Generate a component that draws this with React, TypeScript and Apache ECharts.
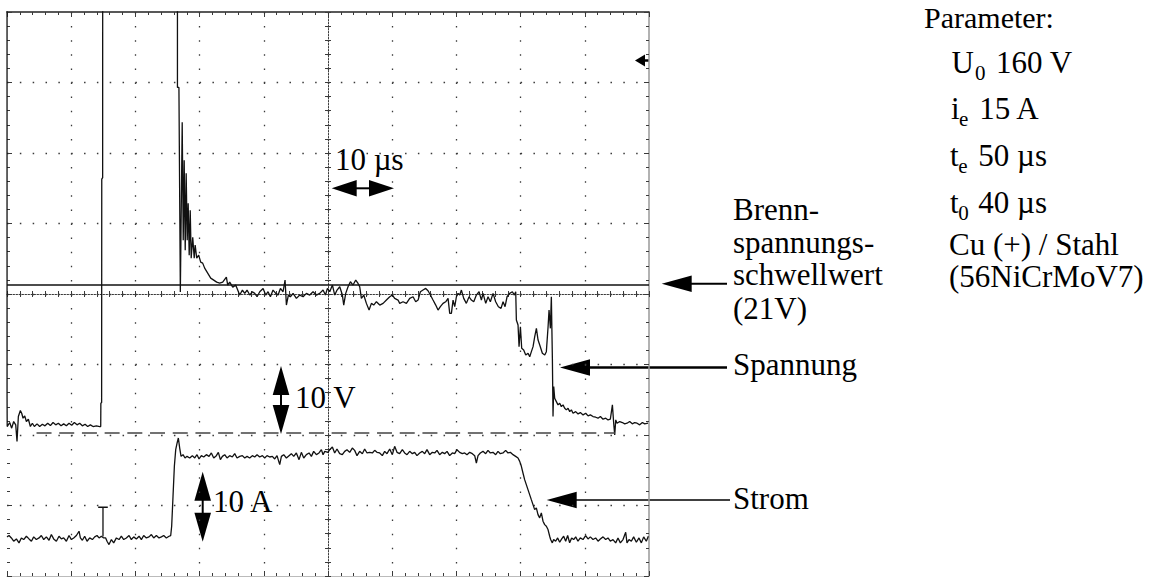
import React, { useEffect, useRef } from "react";
import * as echarts from "echarts";

// Oscillogram of a single EDM discharge: gap voltage and discharge current over time.
// Time in µs (10 µs / div), voltage in V (10 V / div), current in A (10 A / div).

const timeRange: [number, number] = [0, 100];
const voltRange: [number, number] = [-20.3, 59.7];
const currentRange: [number, number] = [-5, 75];
const thresholdVolt = 21;
const zeroLineSpan: [number, number] = [4.6, 94.7];

// Gap voltage [t µs, U V]; values above the screen top are the 160 V open-circuit level.
const voltage: [number, number][] = [
  [0, 160], [0.01, 5.0], [0.03, 0.9], [0.42, 1.47], [0.73, 0.67], [1.04, 1.61], [1.36, 1.14],
  [1.56, -1.22], [1.77, 2.32], [2.08, 3.17], [2.29, 2.79], [2.5, 2.08], [2.76, 2.41], [3.02, 1.61],
  [3.33, 1.94], [3.64, 0.9], [3.95, 1.37], [4.26, 0.9], [4.68, 1.28], [5.09, 0.9], [5.51, 1.23],
  [5.92, 1.0], [6.34, 1.37], [6.76, 1.04], [7.17, 1.47], [7.59, 1.14], [8.0, 1.37], [8.42, 1.0],
  [8.83, 1.28], [9.25, 1.0], [9.66, 1.37], [10.08, 1.09], [10.49, 1.47], [10.91, 1.14], [11.32, 1.37],
  [11.74, 1.0], [12.16, 1.23], [12.57, 0.9], [12.99, 1.14], [13.4, 0.9], [13.92, 1.0], [14.44, 0.9],
  [14.6, 0.9], [14.62, 4.2], [14.74, 4.3], [14.76, 36.0], [14.9, 36.2], [14.92, 160],
  [26.54, 160], [26.55, 49.0], [26.78, 49.0], [27.0, 20.0],
  [27.29, 44.05], [27.45, 27.34], [27.6, 38.67], [27.76, 25.92], [27.91, 36.83], [28.07, 27.34],
  [28.22, 32.58], [28.38, 25.21], [28.54, 31.59], [28.69, 24.79], [28.93, 27.76], [29.16, 24.79],
  [29.31, 26.63], [29.55, 24.79], [29.86, 25.21], [30.17, 24.22], [30.48, 24.08], [30.79, 23.37],
  [31.26, 22.66], [31.73, 21.95], [32.2, 21.67], [32.66, 21.39], [33.13, 21.25], [33.6, 21.39],
  [34.17, 22.1], [34.38, 20.96], [34.69, 21.39], [35.16, 20.68], [35.62, 20.96],
  [36.25, 19.55], [36.67, 20.26], [37.03, 19.79], [37.39, 20.26], [37.81, 19.55], [38.22, 20.02],
  [38.59, 19.79], [38.95, 19.31], [39.37, 20.02], [39.89, 20.49], [40.3, 19.55], [40.66, 20.02],
  [41.03, 19.31], [41.44, 20.26], [41.86, 19.79], [42.22, 19.55], [42.59, 20.49], [43.0, 20.02],
  [43.31, 21.68], [43.52, 18.13], [43.83, 19.55], [44.14, 19.31], [44.56, 19.79], [45.08, 19.08],
  [45.6, 19.55], [46.12, 19.31], [46.64, 19.79], [47.15, 19.55], [47.67, 20.02], [48.19, 19.55],
  [48.71, 19.79], [49.23, 20.26], [49.6, 19.55], [49.91, 20.49], [50.27, 20.02], [50.69, 20.97],
  [51.05, 19.55], [51.41, 20.26], [51.83, 20.73], [52.24, 19.55], [52.45, 18.13], [52.76, 19.79],
  [53.12, 20.73], [53.49, 21.44], [53.9, 20.97], [54.32, 21.68], [54.68, 21.2], [54.94, 20.73],
  [55.2, 19.08], [55.57, 19.55], [55.98, 18.37], [56.4, 17.43], [56.76, 18.37], [57.12, 18.13],
  [57.54, 18.61], [58.06, 18.13], [58.58, 18.37], [59.1, 18.84], [59.62, 19.31], [60.03, 19.55],
  [60.39, 19.08], [60.91, 18.84],
  [61.17, 18.37], [61.69, 18.6], [62.21, 18.37], [62.73, 19.08], [63.25, 19.31], [63.66, 18.6],
  [64.03, 18.84], [64.39, 20.02], [64.8, 20.26], [65.22, 20.49], [65.58, 20.16], [65.95, 19.55],
  [66.36, 18.84], [66.78, 18.13], [67.14, 17.42], [67.5, 17.9], [67.92, 18.37], [68.33, 18.6],
  [68.7, 19.08], [68.96, 16.95], [69.22, 16.95], [69.48, 18.84], [69.74, 17.9], [70.0, 19.31],
  [70.26, 19.79], [70.52, 19.55], [70.78, 20.26], [71.14, 19.08], [71.55, 18.37], [71.97, 19.31],
  [72.33, 18.84], [72.7, 18.6], [73.11, 19.55], [73.53, 20.02], [73.89, 18.84], [74.15, 19.79],
  [74.57, 18.37], [74.93, 19.31], [75.29, 18.6], [75.71, 19.79], [76.12, 18.6], [76.54, 17.9],
  [76.95, 17.66], [77.27, 18.6], [77.58, 17.9], [77.89, 19.31], [78.3, 19.79], [78.72, 20.02],
  [79.03, 19.55], [79.24, 20.02], [79.34, 16.01], [79.6, 15.3], [79.76, 12.23], [79.97, 15.06],
  [80.17, 12.0], [80.48, 11.76], [80.8, 11.05], [81.16, 11.29], [81.42, 10.81], [81.68, 11.52],
  [81.94, 12.23], [82.2, 13.65], [82.46, 14.83], [82.72, 13.17], [82.98, 12.47], [83.39, 11.29],
  [83.76, 11.05], [84.01, 11.52], [84.28, 15.06], [84.43, 17.42], [84.64, 14.83], [84.79, 19.31],
  [84.95, 10.58], [85.05, 2.32], [85.16, 6.57], [85.31, 4.91], [85.57, 4.44], [85.83, 3.97],
  [86.09, 4.2], [86.35, 3.73], [86.61, 3.97], [86.87, 3.5], [87.13, 3.26], [87.39, 3.5],
  [87.65, 3.02], [87.91, 3.26], [88.17, 2.79], [88.58, 3.02], [88.95, 2.69], [89.31, 2.88],
  [89.73, 2.55], [90.14, 2.79], [90.51, 2.41], [90.87, 2.55], [91.28, 2.32], [91.7, 2.22],
  [92.06, 2.08], [92.43, 2.32], [92.84, 1.94], [93.26, 2.08], [93.62, 1.84], [93.98, 1.94],
  [94.3, 3.97], [94.5, 1.37], [94.66, -0.28], [94.82, 1.84], [95.02, 1.37], [95.44, 1.61],
  [95.85, 1.47], [96.22, 1.28], [96.58, 1.37], [96.99, 1.61], [97.4, 1.28], [97.77, 1.47],
  [98.14, 1.37], [98.55, 1.14], [98.97, 1.47], [99.33, 1.28], [99.85, 1.37],
];

// Discharge current [t µs, I A].
const current: [number, number][] = [
  [0, 0.55], [0.32, 0.74], [0.68, 0.4], [1.04, -0.07], [1.46, 0.26], [1.87, -0.3], [2.24, 0.4],
  [2.6, 0.17], [3.02, 0.64], [3.43, 0.26], [3.8, -0.07], [4.16, 0.55], [4.57, 0.17], [4.99, 0.4],
  [5.35, 0.74], [5.72, 0.17], [6.13, 0.55], [6.55, 0.07], [6.91, 0.88], [7.27, 0.26], [7.69, -0.07],
  [8.1, 0.64], [8.47, 0.26], [8.83, 0.4], [9.25, -0.07], [9.66, 0.74], [10.03, 0.17], [10.39, 0.4],
  [10.81, 0.74], [11.22, 1.35], [11.43, 0.4], [11.74, 0.07], [12.1, 0.64], [12.47, -0.07],
  [12.88, 0.4], [13.3, 0.17], [13.66, 0.55], [14.02, 0.74], [14.34, 0.4], [14.7, 0.64], [15.06, 0.4],
  [15.37, 0.4], [15.58, -0.07], [15.89, -0.54], [16.26, 0.17], [16.62, -0.3], [17.04, 0.4],
  [17.45, 0.17], [17.81, 0.64], [18.18, 0.17], [18.59, 0.4], [19.01, 0.74], [19.37, 0.17],
  [19.74, 0.55], [20.15, 0.26], [20.57, 0.64], [20.93, 0.17], [21.29, 0.74], [21.71, 0.4],
  [22.12, 0.55], [22.49, 0.88], [22.85, 0.4], [23.27, 0.74], [23.68, 0.4], [24.05, 0.55],
  [24.41, 0.74], [24.82, 0.4], [25.24, 0.64], [25.5, 0.74], [25.65, 2.06], [25.86, 6.31],
  [26.07, 10.56], [26.28, 12.92], [26.49, 13.86], [26.69, 14.57], [26.9, 13.15], [27.11, 11.97],
  [27.42, 12.21], [27.73, 11.74], [28.04, 11.97], [28.46, 11.74], [28.87, 12.07], [29.24, 11.74],
  [29.6, 12.21], [29.91, 11.6], [30.28, 12.07], [30.64, 11.88], [31.05, 12.21], [31.47, 11.97],
  [31.83, 12.45], [32.2, 11.74], [32.61, 12.07], [32.92, 12.54], [33.24, 11.5], [33.55, 11.97],
  [33.91, 12.21], [34.27, 11.74], [34.69, 12.07], [35.1, 11.88], [35.47, 12.35], [35.83, 11.74],
  [36.25, 11.97], [36.66, 12.07], [37.03, 11.74], [37.39, 11.97], [37.8, 11.74], [38.22, 12.07],
  [38.58, 11.88], [38.95, 12.21], [39.36, 11.88], [39.78, 12.07], [40.14, 11.74], [40.5, 12.07],
  [40.92, 11.88], [41.33, 11.97], [41.7, 11.6], [42.06, 12.07], [42.48, 10.79], [42.74, 11.97],
  [43.1, 12.21], [43.52, 11.74], [43.93, 12.07], [44.29, 12.35], [44.66, 11.97], [45.07, 12.45],
  [45.49, 11.5], [45.85, 12.54], [46.22, 11.74], [46.63, 12.21], [47.05, 12.45], [47.41, 11.97],
  [47.77, 12.68], [48.19, 12.21], [48.6, 12.45], [48.97, 12.92], [49.23, 12.21], [49.49, 12.68],
  [50.0, 12.54], [50.26, 12.92], [50.68, 13.29], [51.04, 12.45], [51.4, 13.01], [51.82, 12.35],
  [52.23, 12.21], [52.6, 12.68], [52.96, 12.92], [53.38, 12.54], [53.79, 13.15], [54.15, 12.82],
  [54.52, 12.07], [54.93, 12.68], [55.35, 12.35], [55.71, 13.01], [56.08, 12.45], [56.49, 12.54],
  [56.91, 12.45], [57.27, 12.82], [57.63, 12.54], [58.05, 12.45], [58.46, 12.07], [58.83, 12.68],
  [59.19, 12.35], [59.61, 13.01], [60.02, 12.21], [60.38, 13.39], [60.75, 12.54], [61.16, 12.35],
  [61.58, 12.92], [61.94, 12.45], [62.31, 12.21], [62.72, 12.68], [63.14, 12.35], [63.5, 12.54],
  [63.86, 12.07], [64.28, 12.45], [64.69, 12.68], [65.06, 12.35], [65.42, 12.92], [65.84, 12.21],
  [66.25, 12.54], [66.62, 12.45], [66.98, 12.82], [67.39, 12.21], [67.81, 12.54], [68.17, 12.35],
  [68.54, 12.68], [68.95, 12.07], [69.37, 12.45], [69.73, 12.35], [70.09, 12.92], [70.51, 12.54],
  [70.92, 12.35], [71.29, 12.45], [71.65, 12.21], [72.07, 12.54], [72.48, 12.35], [72.85, 12.07],
  [73.11, 11.03], [73.37, 12.07], [73.73, 12.45], [74.14, 12.68], [74.56, 12.35], [74.92, 12.82],
  [75.29, 12.45], [75.7, 12.54], [76.12, 12.21], [76.48, 12.68], [76.84, 12.35], [77.26, 12.45],
  [77.67, 12.82], [78.04, 12.45], [78.4, 12.54], [78.82, 12.21], [79.23, 11.97], [79.6, 11.74],
  [79.86, 11.26], [80.12, 10.56], [80.37, 9.61], [80.63, 8.67], [80.89, 7.96], [81.15, 7.25],
  [81.41, 6.54], [81.67, 5.83], [81.93, 5.13], [82.19, 4.42], [82.45, 4.66], [82.71, 3.71],
  [82.97, 3.24], [83.23, 3.95], [83.49, 2.77], [83.75, 2.29], [84.01, 2.06], [84.27, 1.59],
  [84.53, 0.64], [84.68, 0.17], [84.94, -0.3], [85.15, 0.17], [85.46, -0.07], [85.77, 0.4],
  [86.09, -0.21], [86.4, 0.26], [86.71, 0.64], [87.02, -0.07], [87.33, 0.74], [87.64, -0.3],
  [87.95, 0.4], [88.27, 0.17], [88.58, 0.55], [88.94, -0.07], [89.3, 0.4], [89.72, 0.17],
  [90.13, 0.74], [90.5, 0.26], [90.86, 0.55], [91.28, 0.17], [91.69, 0.4], [92.06, -0.07],
  [92.42, 0.26], [92.84, 0.55], [93.25, 0.17], [93.61, 0.4], [93.98, -0.07], [94.39, 0.17],
  [94.81, -0.3], [95.17, 0.4], [95.54, -0.3], [95.95, 0.17], [96.37, 1.21], [96.57, -0.3],
  [96.89, 0.17], [97.25, -0.07], [97.61, 0.55], [98.03, -0.21], [98.44, 0.4], [98.81, -0.3],
  [99.17, 0.55], [99.58, -0.07], [99.9, 0.64],
];

// Trigger-point marker ("T") on the current channel.
const triggerMark: [number, number][] = [[14.2, 4.75], [15.7, 4.75], [14.95, 4.75], [14.95, 0.6]];

const SERIF = '"Liberation Serif", "Times New Roman", serif';
const INK = "#111";
const DOT = "#3a3a3a";

type El = Record<string, unknown>;

function label(text: string, x: number, baseline: number, size = 31): El {
  return {
    type: "text",
    x,
    y: baseline - 0.3375 * size,
    silent: true,
    style: {
      text, fontSize: size, fontFamily: SERIF, fill: "#000",
      align: "left", verticalAlign: "middle", lineHeight: Math.round(size * 0.85),
    },
  };
}

function bar(x1: number, y1: number, x2: number, y2: number, w = 2): El {
  return { type: "line", silent: true, shape: { x1, y1, x2, y2 }, style: { stroke: "#000", lineWidth: w } };
}

function head(points: number[][]): El {
  return { type: "polygon", silent: true, shape: { points }, style: { fill: "#000" } };
}

// Arrow pointing left: tip, base of the head, end of the shaft.
function leftArrow(tipX: number, y: number, baseX: number, endX: number, w = 2): El[] {
  return [head([[tipX, y], [baseX, y - 8.3], [baseX, y + 8.3]]), bar(baseX - 1, y, endX, y, w)];
}

function hDouble(x1: number, x2: number, y: number): El[] {
  return [
    head([[x1, y], [x1 + 25, y - 8.3], [x1 + 25, y + 8.3]]),
    head([[x2, y], [x2 - 25, y - 8.3], [x2 - 25, y + 8.3]]),
    bar(x1 + 24, y, x2 - 24, y, 2),
  ];
}

function vDouble(x: number, y1: number, y2: number): El[] {
  return [
    head([[x, y1], [x - 8.3, y1 + 29], [x + 8.3, y1 + 29]]),
    head([[x, y2], [x - 8.3, y2 - 29], [x + 8.3, y2 - 29]]),
    bar(x, y1 + 28, x, y2 - 28, 2),
  ];
}

function subscripted(x: number, baseline: number, main: string, sub: string, subX: number, rest: string, restX: number): El[] {
  return [label(main, x, baseline), label(sub, subX, baseline + 7, 21), label(rest, restX, baseline)];
}

const frameTick = { show: true, inside: true, length: 5, lineStyle: { color: DOT, width: 1 } };
const frameMinor = { show: true, splitNumber: 5, length: 3, lineStyle: { color: DOT, width: 1 } };
const crossTick = { show: true, length: 3, lineStyle: { color: DOT, width: 1 } };
const crossMinor = { show: true, splitNumber: 5, length: 3, lineStyle: { color: DOT, width: 1 } };

export default function App() {
  const ref = useRef<HTMLDivElement>(null);

  useEffect(() => {
    if (!ref.current) return;
    const chart = echarts.init(ref.current, undefined, { renderer: "svg" });

    const graphicElements: El[] = [
      // trigger level marker at the right screen edge
      head([[635, 60.5], [645, 54.5], [645, 66.5]]),
      bar(644, 60.5, 649, 60.5, 2.5),
      // scale arrows
      ...hDouble(331.7, 394, 188.3),
      label("10 µs", 335, 170),
      ...vDouble(281, 366, 434),
      label("10 V", 295, 408),
      ...vDouble(202.7, 471.7, 541.7),
      label("10 A", 213, 512),
      // callouts
      ...leftArrow(661.7, 283.8, 691.7, 727, 2),
      label("Brenn-", 733, 220),
      label("spannungs-", 733, 253),
      label("schwellwert", 733, 285),
      label("(21V)", 733, 319),
      ...leftArrow(560, 367.5, 590, 727, 2.3),
      label("Spannung", 733, 375),
      ...leftArrow(546.7, 500, 576.7, 730, 1.5),
      label("Strom", 733, 509),
      // parameter block
      label("Parameter:", 924, 27.5, 30),
      ...subscripted(951.5, 73, "U", "0", 975, "160 V", 996),
      ...subscripted(951, 119, "i", "e", 959, "15 A", 979.3),
      ...subscripted(950, 166, "t", "e", 958.3, "50 µs", 978.3),
      ...subscripted(950, 213, "t", "0", 958.3, "40 µs", 978.3),
      label("Cu (+) / Stahl", 949, 255),
      label("(56NiCrMoV7)", 949, 287),
    ];

    const centreLine = { show: true, onZero: true, onZeroAxisIndex: 0, lineStyle: { color: DOT, width: 1, type: [1.5, 1.5] } };

    chart.setOption({
      animation: false,
      backgroundColor: "#fff",
      grid: { left: 7, top: 12, width: 642, height: 564, containLabel: false },
      xAxis: [
        {
          // centre crosshair line with the vertical dotted graticule
          type: "value", min: -50, max: 50, interval: 10, position: "bottom",
          axisLine: centreLine,
          axisTick: crossTick, minorTick: crossMinor,
          axisLabel: { show: false },
          splitLine: { show: true, showMinLine: false, showMaxLine: false, lineStyle: { color: DOT, width: 1.3, type: [1.5, 12.6] } },
        },
        {
          // time axis along the top edge
          type: "value", min: timeRange[0], max: timeRange[1], interval: 10, position: "top",
          axisLine: { show: true, onZero: false, lineStyle: { color: "#222", width: 1.5 } },
          axisTick: frameTick, minorTick: frameMinor,
          axisLabel: { show: false }, splitLine: { show: false },
        },
        {
          type: "value", min: timeRange[0], max: timeRange[1], interval: 10, position: "bottom",
          axisLine: { show: true, onZero: false, lineStyle: { color: "#bbb", width: 1 } },
          axisTick: frameTick, minorTick: frameMinor,
          axisLabel: { show: false }, splitLine: { show: false },
        },
        {
          // ticks on the other side of the centre line
          type: "value", min: -50, max: 50, interval: 10, position: "bottom",
          axisLine: { show: false, onZero: true, onZeroAxisIndex: 0 },
          axisTick: { ...crossTick, inside: true }, minorTick: crossMinor,
          axisLabel: { show: false }, splitLine: { show: false },
        },
      ],
      yAxis: [
        {
          // centre crosshair line with the horizontal dotted graticule
          type: "value", min: -4, max: 4, interval: 1, position: "left",
          axisLine: centreLine,
          axisTick: crossTick, minorTick: crossMinor,
          axisLabel: { show: false },
          splitLine: { show: true, showMinLine: false, showMaxLine: false, lineStyle: { color: DOT, width: 1.3, type: [1.5, 11.34] } },
        },
        {
          type: "value", min: 0, max: 8, interval: 1, position: "left",
          axisLine: { show: false, onZero: false },
          axisTick: frameTick, minorTick: frameMinor,
          axisLabel: { show: false }, splitLine: { show: false },
        },
        {
          type: "value", min: 0, max: 8, interval: 1, position: "right",
          axisLine: { show: true, onZero: false, lineStyle: { color: "#999", width: 1.5 } },
          axisTick: frameTick, minorTick: frameMinor,
          axisLabel: { show: false }, splitLine: { show: false },
        },
        { type: "value", name: "U / V", min: voltRange[0], max: voltRange[1], show: false },
        { type: "value", name: "I / A", min: currentRange[0], max: currentRange[1], show: false },
        {
          // ticks on the other side of the centre line
          type: "value", min: -4, max: 4, interval: 1, position: "left",
          axisLine: { show: false, onZero: true, onZeroAxisIndex: 0 },
          axisTick: { ...crossTick, inside: true }, minorTick: crossMinor,
          axisLabel: { show: false }, splitLine: { show: false },
        },
      ],
      series: [
        {
          name: "Spannung", type: "line", xAxisIndex: 1, yAxisIndex: 3, data: voltage,
          showSymbol: false, symbol: "none", clip: true, silent: true,
          lineStyle: { color: INK, width: 1.3 },
          markLine: {
            silent: true, symbol: ["none", "none"], label: { show: false },
            data: [
              { yAxis: thresholdVolt, lineStyle: { color: INK, width: 1.5, type: "solid" } },
              [
                { coord: [zeroLineSpan[0], 0], lineStyle: { color: "#444", width: 1.5, type: [15, 7.7] } },
                { coord: [zeroLineSpan[1], 0] },
              ],
            ],
          },
        },
        {
          name: "Strom", type: "line", xAxisIndex: 1, yAxisIndex: 4, data: current,
          showSymbol: false, symbol: "none", clip: true, silent: true,
          lineStyle: { color: INK, width: 1.3 },
        },
        {
          name: "Trigger", type: "line", xAxisIndex: 1, yAxisIndex: 4, data: triggerMark,
          showSymbol: false, symbol: "none", silent: true,
          lineStyle: { color: INK, width: 1.3 },
        },
      ],
      graphic: { elements: graphicElements },
    });

    return () => chart.dispose();
  }, []);

  return <div ref={ref} style={{ position: "fixed", left: 0, top: 0, width: 1157, height: 577 }} />;
}
